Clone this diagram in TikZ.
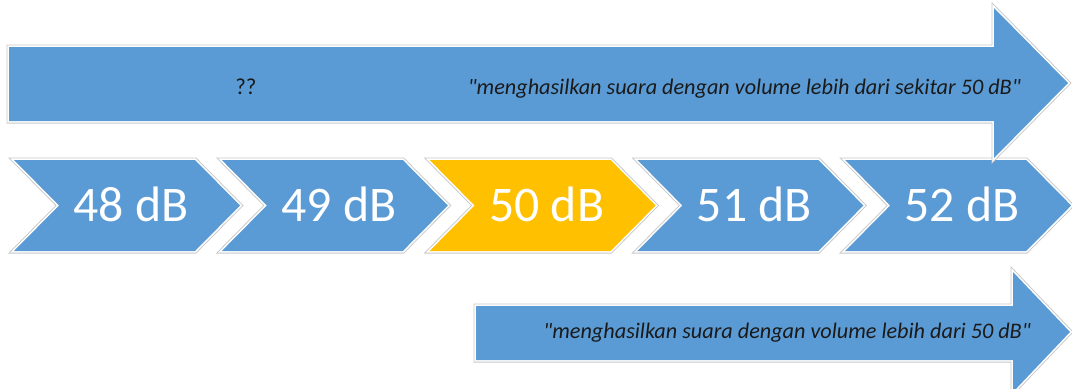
\documentclass[tikz,border=0pt]{standalone}
\usepackage{fontspec}
\setmainfont{Carlito}
\definecolor{stepblue}{HTML}{5B9BD5}
\definecolor{stepgold}{HTML}{FFC000}
\definecolor{inktext}{HTML}{1A1A1A}

\tikzset{
  shapefill/.style={fill=#1,
    preaction={draw=black!22, line width=5bp, line join=miter},
    preaction={draw=white, line width=3.2bp, line join=miter}},
  levellabel/.style={anchor=base, text=white, inner sep=0pt,
    font=\fontsize{50}{58}\selectfont},
  quotelabel/.style={anchor=base east, text=inktext, inner sep=0pt,
    font=\fontsize{22.3}{26}\selectfont\itshape},
  marklabel/.style={anchor=base, text=inktext, inner sep=0pt,
    font=\fontsize{23}{26}\selectfont},
}

\begin{document}
\begin{tikzpicture}[x=1bp, y=-1bp]
  \useasboundingbox (0,0) rectangle (1072,388);
  \clip (0,0) rectangle (1072,388);

  % row of level chevrons
  \foreach \i/\lab/\col in {0/48/stepblue, 1/49/stepblue, 2/50/stepgold, 3/51/stepblue, 4/52/stepblue} {
    \pgfmathsetmacro{\L}{14+207.8*\i}
    \path[shapefill=\col] (\L,160) -- (\L+181,160) -- (\L+226,205.5)
      -- (\L+181,251) -- (\L,251) -- (\L+45,205.5) -- cycle;
    \node[levellabel] (lvl\lab) at (\L+117,221) {\lab\ dB};
  }

  % upper wide arrow
  \path[shapefill=stepblue] (9,47) -- (994,47) -- (994,8) -- (1068,83)
    -- (994,158) -- (994,121) -- (9,121) -- cycle;
  \node[marklabel] (unknown) at (246,94) {??};
  \node[quotelabel] (upper) at (1021,94)
    {\textquotedbl menghasilkan suara dengan volume lebih dari sekitar 50 dB\textquotedbl};

  % lower arrow
  \path[shapefill=stepblue] (476,306) -- (1013,306) -- (1013,272) -- (1070,332)
    -- (1013,392) -- (1013,360) -- (476,360) -- cycle;
  \node[quotelabel] (lower) at (1031,338)
    {\textquotedbl menghasilkan suara dengan volume lebih dari 50 dB\textquotedbl};
\end{tikzpicture}
\end{document}
